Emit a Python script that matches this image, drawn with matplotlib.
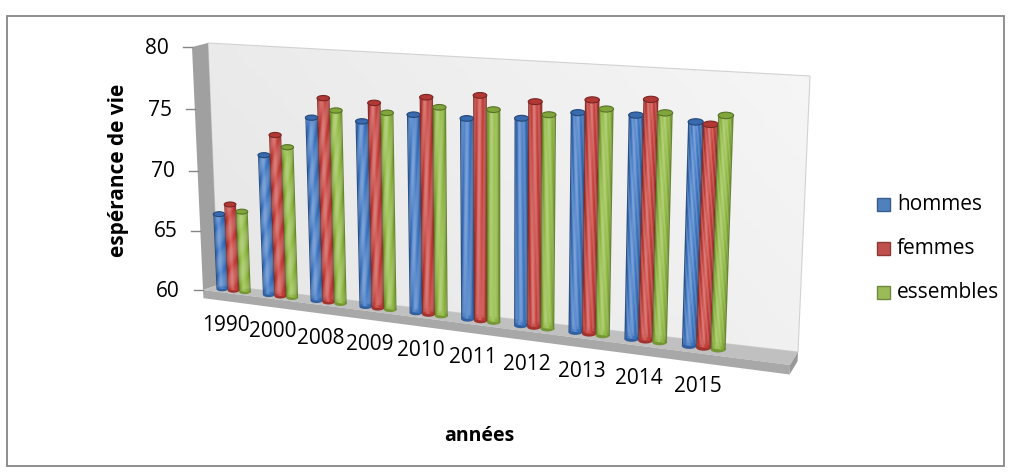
import numpy as np
import matplotlib
matplotlib.use("Agg")
import matplotlib.pyplot as plt
from matplotlib.transforms import Transform
from matplotlib.patches import Polygon, Ellipse, Rectangle
from matplotlib.colors import to_rgb

plt.rcParams['font.family'] = ['Open Sans', 'DejaVu Sans']

###############################################################################
# Data
###############################################################################
YEARS = ['1990', '2000', '2008', '2009', '2010',
         '2011', '2012', '2013', '2014', '2015']
HOMMES = [66.3, 71.5, 74.8, 74.8, 75.6, 75.6, 75.9, 76.6, 76.7, 76.5]
FEMMES = [67.2, 73.2, 76.4, 76.3, 77.0, 77.4, 77.2, 77.6, 77.9, 76.4]
ENSEMBLE = [66.7, 72.3, 75.5, 75.6, 76.3, 76.4, 76.3, 77.0, 77.0, 77.1]
NAMES = ['hommes', 'femmes', 'essembles']
Y_TICKS = [60, 65, 70, 75, 80]
(V_MIN, V_MAX) = (60, 80)

###############################################################################
# Constants
###############################################################################
(W, H) = (1012, 475)
# back wall / front edge corners in pixels: TL, TR, BR, BL
BACK = np.array([[208, 43], [810, 76], [798, 352], [218, 285]], float)
FRONT = np.array([[192, 47], [803, 81], [790, 365], [203, 290]], float)
(U0, U1) = (-0.5, 10.5)      # one spare category slot on the right
BODY = ['#3F78C6', '#C9403B', '#92BC42']
KEY = [('#4F81BD', '#385D8A'), ('#C0504D', '#8C3836'), ('#9BBB59', '#71893F')]
PROFILE = [0.68, 0.86, 0.98, 1.10, 1.18, 1.16, 1.08, 1.0, 0.94, 0.86, 0.72]
(RAD, STEP) = (0.125, 0.245)
GREY = '#868686'


def homography(src, dst):
    (A, b) = ([], [])
    for (x, y), (X, Y) in zip(src, dst):
        A.append([x, y, 1, 0, 0, 0, -X*x, -X*y]); b.append(X)
        A.append([0, 0, 0, x, y, 1, -Y*x, -Y*y]); b.append(Y)
    h = np.linalg.solve(np.array(A, float), np.array(b, float))
    return np.append(h, 1).reshape(3, 3)


def planeH(d):
    dst = (1-d)*BACK + d*FRONT
    src = [(U0, V_MAX), (U1, V_MAX), (U1, V_MIN), (U0, V_MIN)]
    return homography(src, dst)


class Persp(Transform):
    """(category, value) -> pixel position on a plane at depth d."""
    input_dims = 2
    output_dims = 2
    is_separable = False
    has_inverse = False

    def __init__(self, d):
        super().__init__()
        self.M = planeH(d)

    def transform_non_affine(self, values):
        v = np.asarray(values, float).reshape(-1, 2)
        p = np.column_stack([v, np.ones(len(v))]) @ self.M.T
        return p[:, :2] / p[:, 2:3]


def proj(u, v, d):
    return Persp(d).transform(np.array([[u, v]], float))[0]


def shade(c, f):
    c = np.array(to_rgb(c))
    return tuple(c*f) if f <= 1 else tuple(c + (1-c)*(f-1))


###############################################################################
# Figure
###############################################################################
fig = plt.figure(figsize=(W/100, H/100), dpi=100)
ax = fig.add_axes([0, 0, 1, 1])
ax.set_autoscale_on(False)
ax.set_xlim(0, W)
ax.set_ylim(H, 0)
ax.axis('off')

ax.add_patch(Rectangle((7, 16), 997, 450, fill=False, ec=GREY, lw=1.3))

# Back wall with soft gradient ------------------------------------------------
wall = [proj(U0, V_MAX, 0), proj(U1, V_MAX, 0),
        proj(U1, V_MIN, 0), proj(U0, V_MIN, 0)]
wallP = Polygon(wall, closed=True, fc='none', ec='#D2D2D2', lw=0.8,
                transform=ax.transData, zorder=1.1)
ax.add_patch(wallP)
(gx, gy) = np.meshgrid(np.linspace(0, 1, 120), np.linspace(0, 1, 60))
g = 0.90 + 0.045*gx + 0.02*(1-gy)
img = np.dstack([g, g, g])
xs = [p[0] for p in wall]
ys = [p[1] for p in wall]
im = ax.imshow(img, extent=(min(xs), max(xs), max(ys), min(ys)),
               origin='upper', aspect='auto', zorder=1)
im.set_clip_path(wallP)

# Side wall and floor ---------------------------------------------------------
FLOOR_T = 0.7
ax.add_patch(Polygon([proj(U0, V_MIN, 0), proj(U0, V_MAX, 0),
                      proj(U0, V_MAX, 1), proj(U0, V_MIN, 1)],
                     fc='#A0A0A0', ec='none', zorder=1.2))
ax.add_patch(Polygon([proj(U0, V_MIN, 0), proj(U1, V_MIN, 0),
                      proj(U1, V_MIN, 1), proj(U0, V_MIN, 1)],
                     fc='#C0C0C0', ec='none', zorder=1.2))
ax.add_patch(Polygon([proj(U0, V_MIN, 1), proj(U1, V_MIN, 1),
                      proj(U1, V_MIN-FLOOR_T, 1), proj(U0, V_MIN-FLOOR_T, 1)],
                     fc='#A8A8A8', ec='none', zorder=1.2))
ax.add_patch(Polygon([proj(U1, V_MIN, 0), proj(U1, V_MIN, 1),
                      proj(U1, V_MIN-FLOOR_T, 1), proj(U1, V_MIN-FLOOR_T, 0)],
                     fc='#989898', ec='none', zorder=1.2))

# Cylinders -------------------------------------------------------------------
persp = Persp(0.5)
trans = persp + ax.transData
xpos = np.arange(len(YEARS))
edges = np.linspace(-RAD, RAD, len(PROFILE)+1)
(mids, sw) = ((edges[:-1]+edges[1:])/2, edges[1]-edges[0])
for (s, vals) in enumerate([HOMMES, FEMMES, ENSEMBLE]):
    vals = np.asarray(vals, float)
    xc = xpos + (s-1)*STEP
    z = 3 + s
    base = persp.transform(np.column_stack([xc, np.full_like(vals, V_MIN)]))
    top = persp.transform(np.column_stack([xc, vals]))
    wl = persp.transform(np.column_stack([xc-RAD, vals]))
    wr = persp.transform(np.column_stack([xc+RAD, vals]))
    for i in range(len(vals)):
        w = wr[i, 0] - wl[i, 0]
        ax.add_patch(Ellipse(base[i], w, 0.42*w, fc=shade(BODY[s], 0.8),
                             ec='none', zorder=z))
    for (k, f) in enumerate(PROFILE):
        ax.bar(xc + mids[k], vals - V_MIN, width=sw*1.08, bottom=V_MIN,
               color=shade(BODY[s], f), linewidth=0, transform=trans,
               zorder=z)
    for i in range(len(vals)):
        w = wr[i, 0] - wl[i, 0]
        ax.add_patch(Ellipse(top[i], w, 0.42*w, fc=shade(BODY[s], 0.88),
                             ec=shade(BODY[s], 0.6), lw=0.8, zorder=z+0.5))

# Value axis ------------------------------------------------------------------
for v in Y_TICKS:
    (px, py) = proj(U0, v, 1)
    ax.plot([px-9, px], [py, py], color=GREY, lw=1, zorder=2)
    ax.text(px-23, py+1, str(v), ha='right', va='center', fontsize=15)
ax.text(119, 170, 'espérance de vie', rotation=90, ha='center',
        va='center', fontsize=15, fontweight='bold')

# Category labels -------------------------------------------------------------
for (i, yr) in enumerate(YEARS):
    (px, py) = proj(i, V_MIN, 1)
    ax.text(px, py+33, yr, ha='center', va='center', fontsize=15)
ax.text(479, 436, 'années', ha='center', va='center', fontsize=14,
        fontweight='bold')

# Legend ----------------------------------------------------------------------
for (j, name) in enumerate(NAMES):
    y = 205 + 44*j
    ax.add_patch(Rectangle((877, y-7), 13, 13, fc=KEY[j][0], ec=KEY[j][1],
                           lw=1))
    ax.text(897, y, name, ha='left', va='center', fontsize=15)

fig.savefig('out.png', dpi=100)
